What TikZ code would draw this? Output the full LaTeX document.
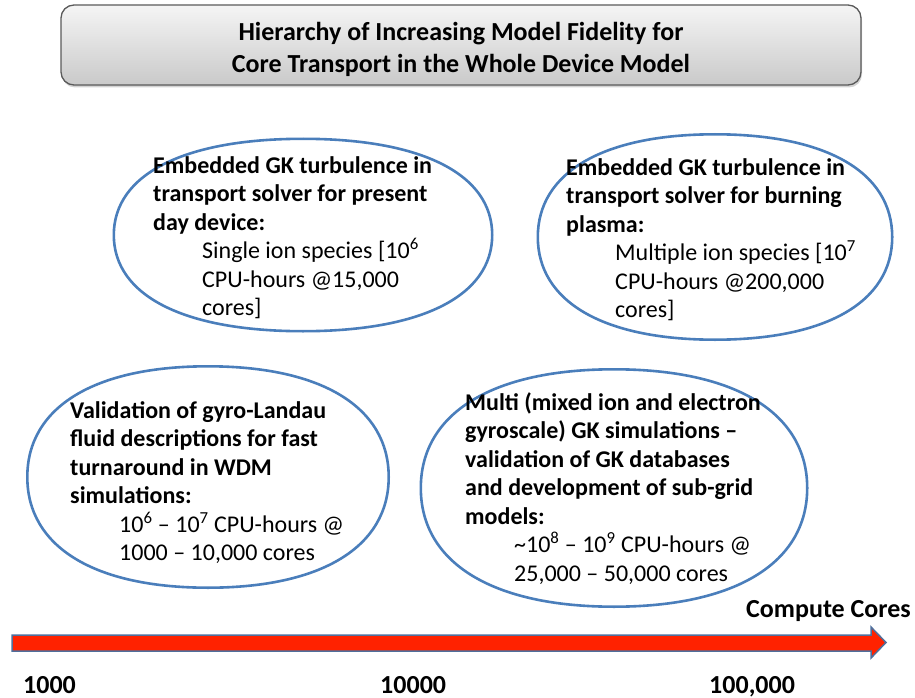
\documentclass[tikz,border=0pt]{standalone}
\usepackage{fontspec}
\setmainfont{Carlito}
\usepackage{tikz}
\usetikzlibrary{calc}
\usetikzlibrary{shadows}

\definecolor{bubbleblue}{HTML}{4A7EBB}
\definecolor{arrowblue}{HTML}{4F6F9C}
\definecolor{arrowred}{HTML}{FF2200}
\definecolor{titleedge}{HTML}{5A5A5A}

\newcommand{\ind}{\hspace*{49pt}}
\newcommand{\bubblek}{0.63}
\newcommand{\drawbubble}[1]{%
  \draw[bubbleline] (#1.east)
    .. controls ($(#1.east)!\bubblek!(#1.north east)$) and ($(#1.north)!\bubblek!(#1.north east)$) .. (#1.north)
    .. controls ($(#1.north)!\bubblek!(#1.north west)$) and ($(#1.west)!\bubblek!(#1.north west)$) .. (#1.west)
    .. controls ($(#1.west)!\bubblek!(#1.south west)$) and ($(#1.south)!\bubblek!(#1.south west)$) .. (#1.south)
    .. controls ($(#1.south)!\bubblek!(#1.south east)$) and ($(#1.east)!\bubblek!(#1.south east)$) .. (#1.east) -- cycle;}

\tikzset{
  bubblebox/.style={rectangle, inner sep=0pt},
  bubbleline/.style={draw=bubbleblue, line width=2.6pt, fill=white},
  bubbletext/.style={anchor=north west, inner sep=0pt, align=left, font=\fontsize{24}{28.5}\selectfont},
  axislabel/.style={anchor=base west, inner sep=0pt, font=\fontsize{26}{31}\selectfont\bfseries},
}

\begin{document}
\begin{tikzpicture}[x=1pt, y=-1pt]
  \useasboundingbox (0,0) rectangle (915,698);

  % Title
  \node[draw=titleedge, line width=1.3pt, rounded corners=13pt, top color=gray!8, bottom color=gray!42,
        drop shadow={opacity=0.35, shadow xshift=1pt, shadow yshift=-2.5pt},
        minimum width=800pt, minimum height=80pt] (title) at (461,45) {};
  \node[align=center, font=\fontsize{26}{32}\selectfont\bfseries] (titletext) at ([yshift=-4pt]title.center)
        {Hierarchy of Increasing Model Fidelity for\\Core Transport in the Whole Device Model};

  % Define bubbles
  \node[bubblebox, minimum width=378pt, minimum height=192pt] (present) at (303,235) {};
  \node[bubblebox, minimum width=354pt, minimum height=205pt] (burning) at (715,237) {};
  \node[bubblebox, minimum width=361pt, minimum height=221pt] (landau) at (208,477) {};
  \node[bubblebox, minimum width=386pt, minimum height=237pt] (multi) at (614,488) {};
  \drawbubble{present}
  \drawbubble{burning}
  \drawbubble{landau}
  \drawbubble{multi}

  % Bubble texts
  \node[bubbletext] (presenttext) at (153,153) {\strut\textbf{Embedded GK turbulence in}\\
    \textbf{transport solver for present}\\ \textbf{day device:}\\
    \ind Single ion species [10\textsuperscript{6}\\ \ind CPU-hours @15,000\\ \ind cores]};
  \node[bubbletext] (burningtext) at (566,155) {\strut\textbf{Embedded GK turbulence in}\\
    \textbf{transport solver for burning}\\ \textbf{plasma:}\\
    \ind Multiple ion species [10\textsuperscript{7}\\ \ind CPU-hours @200,000\\ \ind cores]};
  \node[bubbletext] (landautext) at (70,398) {\strut\textbf{Validation of gyro-Landau}\\
    \textbf{fluid descriptions for fast}\\ \textbf{turnaround in WDM}\\ \textbf{simulations:}\\
    \ind 10\textsuperscript{6} -- 10\textsuperscript{7} CPU-hours @\\ \ind 1000 -- 10,000 cores};
  \node[bubbletext] (multitext) at (465,390) {\strut\textbf{Multi (mixed ion and electron}\\
    \textbf{gyroscale) GK simulations --}\\ \textbf{validation of GK databases}\\
    \textbf{and development of sub-grid}\\ \textbf{models:}\\
    \ind \textasciitilde10\textsuperscript{8} -- 10\textsuperscript{9} CPU-hours @\\ \ind 25,000 -- 50,000 cores};

  % Compute cores axis
  \draw[draw=arrowblue, fill=arrowred, line width=1.5pt, line join=miter]
    (12,635) -- (871,635) -- (871,627) -- (886,642.5) -- (871,658) -- (871,651) -- (12,651) -- cycle;
  \node[axislabel, anchor=base east] (axisname) at (911,617) {Compute Cores};
  \node[axislabel] (low) at (23,693) {1000};
  \node[axislabel] (mid) at (380,693) {10000};
  \node[axislabel] (high) at (709,693) {100,000};

\end{tikzpicture}
\end{document}
